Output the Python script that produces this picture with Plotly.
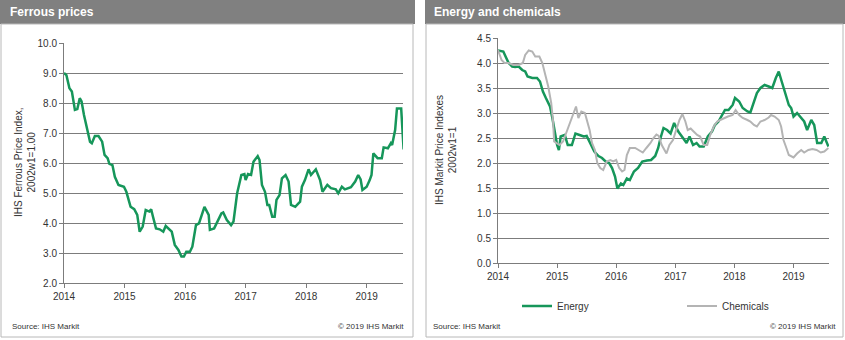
import plotly.graph_objects as go

W, H = 845, 340

# Ferrous price index (decimal year, index value)
ferrous_year = [
    2014.00, 2014.04, 2014.09, 2014.13, 2014.18, 2014.22, 2014.26, 2014.29, 2014.33, 2014.37,
    2014.43, 2014.46, 2014.51, 2014.57, 2014.63, 2014.67, 2014.72, 2014.75, 2014.80, 2014.84,
    2014.90, 2014.99, 2015.03, 2015.10, 2015.16, 2015.21, 2015.25, 2015.30, 2015.35, 2015.41,
    2015.44, 2015.47, 2015.52, 2015.58, 2015.64, 2015.68, 2015.72, 2015.78, 2015.83, 2015.89,
    2015.94, 2015.98, 2016.02, 2016.08, 2016.12, 2016.18, 2016.23, 2016.28, 2016.32, 2016.39,
    2016.41, 2016.48, 2016.53, 2016.60, 2016.63, 2016.69, 2016.76, 2016.80, 2016.86, 2016.93,
    2016.98, 2017.00, 2017.04, 2017.09, 2017.13, 2017.20, 2017.23, 2017.27, 2017.32, 2017.36,
    2017.39, 2017.44, 2017.48, 2017.51, 2017.56, 2017.60, 2017.66, 2017.71, 2017.75, 2017.82,
    2017.90, 2017.93, 2017.98, 2018.04, 2018.08, 2018.16, 2018.23, 2018.27, 2018.35, 2018.41,
    2018.49, 2018.53, 2018.59, 2018.64, 2018.74, 2018.81, 2018.86, 2018.90, 2018.93, 2019.00,
    2019.05, 2019.08, 2019.11, 2019.18, 2019.25, 2019.28, 2019.35, 2019.40, 2019.42, 2019.47,
    2019.50, 2019.57, 2019.61,
]
ferrous_index = [
    9.00, 8.93, 8.49, 8.38, 7.77, 7.80, 8.16, 8.05, 7.60, 7.21,
    6.71, 6.66, 6.90, 6.90, 6.71, 6.27, 6.16, 5.97, 5.93, 5.54,
    5.27, 5.21, 5.04, 4.54, 4.46, 4.27, 3.71, 3.88, 4.43, 4.38,
    4.46, 4.21, 3.82, 3.79, 3.71, 3.90, 3.82, 3.71, 3.27, 3.10,
    2.88, 2.88, 3.04, 3.04, 3.21, 3.93, 3.99, 4.27, 4.54, 4.27,
    3.77, 3.82, 4.05, 4.32, 4.35, 4.10, 3.93, 4.05, 4.99, 5.60,
    5.63, 5.43, 5.63, 5.60, 6.04, 6.23, 6.10, 5.27, 5.04, 4.60,
    4.60, 4.21, 4.21, 4.77, 4.93, 5.49, 5.60, 5.38, 4.60, 4.54,
    4.71, 5.21, 5.43, 5.79, 5.60, 5.79, 5.43, 5.04, 5.27, 5.16,
    5.12, 4.99, 5.21, 5.12, 5.19, 5.38, 5.60, 5.45, 5.10, 5.21,
    5.43, 5.60, 6.32, 6.16, 6.16, 6.52, 6.49, 6.66, 6.60, 7.10,
    7.82, 7.82, 6.45,
]

# Energy price index
energy_year = [
    2014.00, 2014.09, 2014.14, 2014.18, 2014.24, 2014.29, 2014.35, 2014.41, 2014.46, 2014.50,
    2014.58, 2014.66, 2014.71, 2014.76, 2014.81, 2014.88, 2014.92, 2014.95, 2015.00, 2015.03,
    2015.06, 2015.13, 2015.18, 2015.25, 2015.31, 2015.38, 2015.45, 2015.50, 2015.56, 2015.63,
    2015.70, 2015.76, 2015.82, 2015.88, 2015.93, 2015.98, 2016.02, 2016.08, 2016.12, 2016.18,
    2016.23, 2016.30, 2016.37, 2016.44, 2016.52, 2016.59, 2016.66, 2016.71, 2016.75, 2016.80,
    2016.86, 2016.92, 2016.98, 2017.05, 2017.13, 2017.19, 2017.24, 2017.30, 2017.36, 2017.41,
    2017.48, 2017.55, 2017.62, 2017.67, 2017.73, 2017.78, 2017.84, 2017.90, 2017.97, 2018.01,
    2018.08, 2018.14, 2018.22, 2018.27, 2018.33, 2018.38, 2018.44, 2018.51, 2018.58, 2018.64,
    2018.70, 2018.75, 2018.80, 2018.86, 2018.92, 2018.96, 2019.00, 2019.06, 2019.13, 2019.18,
    2019.23, 2019.30, 2019.35, 2019.40, 2019.47, 2019.52, 2019.59,
]
energy_index = [
    4.25, 4.23, 4.10, 4.00, 3.93, 3.92, 3.93, 3.86, 3.83, 3.73,
    3.70, 3.70, 3.63, 3.43, 3.30, 3.13, 2.90, 2.70, 2.36, 2.26,
    2.53, 2.56, 2.36, 2.36, 2.59, 2.56, 2.53, 2.54, 2.40, 2.23,
    2.14, 2.10, 2.03, 2.00, 1.90, 1.73, 1.49, 1.59, 1.56, 1.69,
    1.66, 1.83, 1.90, 2.03, 2.05, 2.06, 2.14, 2.30, 2.50, 2.70,
    2.66, 2.59, 2.80, 2.63, 2.50, 2.40, 2.53, 2.36, 2.40, 2.33,
    2.33, 2.53, 2.63, 2.76, 2.83, 2.93, 3.06, 3.06, 3.16, 3.30,
    3.23, 3.10, 3.03, 3.01, 3.23, 3.40, 3.50, 3.56, 3.53, 3.50,
    3.70, 3.83, 3.63, 3.40, 3.16, 3.10, 2.93, 3.00, 2.90, 2.83,
    2.66, 2.86, 2.76, 2.40, 2.40, 2.53, 2.33,
]

# Chemicals price index
chem_year = [
    2014.00, 2014.06, 2014.11, 2014.18, 2014.26, 2014.35, 2014.42, 2014.46, 2014.52, 2014.58,
    2014.63, 2014.70, 2014.75, 2014.79, 2014.85, 2014.90, 2014.93, 2014.95, 2015.00, 2015.04,
    2015.10, 2015.17, 2015.22, 2015.28, 2015.32, 2015.36, 2015.41, 2015.47, 2015.50, 2015.55,
    2015.59, 2015.64, 2015.68, 2015.73, 2015.78, 2015.84, 2015.90, 2015.95, 2016.00, 2016.05,
    2016.10, 2016.14, 2016.18, 2016.23, 2016.32, 2016.39, 2016.45, 2016.51, 2016.58, 2016.63,
    2016.68, 2016.72, 2016.77, 2016.85, 2016.90, 2016.96, 2017.02, 2017.07, 2017.12, 2017.17,
    2017.21, 2017.26, 2017.31, 2017.37, 2017.42, 2017.48, 2017.54, 2017.59, 2017.65, 2017.71,
    2017.76, 2017.82, 2017.89, 2017.97, 2018.02, 2018.08, 2018.14, 2018.22, 2018.27, 2018.33,
    2018.38, 2018.44, 2018.51, 2018.58, 2018.62, 2018.68, 2018.75, 2018.79, 2018.83, 2018.87,
    2018.92, 2019.00, 2019.06, 2019.13, 2019.18, 2019.25, 2019.32, 2019.39, 2019.46, 2019.52,
    2019.59,
]
chem_index = [
    4.26, 4.06, 4.00, 4.00, 3.96, 3.96, 4.00, 4.16, 4.25, 4.23,
    4.13, 4.13, 4.00, 3.80, 3.53, 3.20, 2.86, 2.43, 2.40, 2.36,
    2.43, 2.66, 2.80, 3.00, 3.13, 2.90, 3.03, 3.00, 2.86, 2.66,
    2.40, 2.26, 2.00, 1.90, 1.86, 2.03, 2.06, 2.03, 2.06, 1.90,
    1.83, 1.86, 2.16, 2.30, 2.30, 2.26, 2.21, 2.30, 2.40, 2.50,
    2.57, 2.54, 2.36, 2.19, 2.36, 2.46, 2.66, 2.86, 2.98, 2.83,
    2.66, 2.69, 2.63, 2.56, 2.53, 2.36, 2.36, 2.56, 2.73, 2.83,
    2.86, 2.90, 2.93, 2.96, 3.06, 2.96, 2.90, 2.86, 2.83, 2.76,
    2.73, 2.83, 2.86, 2.91, 2.96, 2.93, 2.86, 2.73, 2.46, 2.33,
    2.16, 2.11, 2.19, 2.26, 2.21, 2.26, 2.28, 2.26, 2.21, 2.23,
    2.30,
]

year_ticks = [2014, 2015, 2016, 2017, 2018, 2019]
ferrous_ticks = [2, 3, 4, 5, 6, 7, 8, 9, 10]
energy_ticks = [0, 0.5, 1, 1.5, 2, 2.5, 3, 3.5, 4, 4.5]

GREEN = "#16965a"
GREY_LINE = "#b4b4b4"
GRID = "#7c7c7c"
TXT = "#333333"
FONT = "Liberation Sans, Arial, sans-serif"


def px(x):
    return x / W


def py(y):
    return 1 - y / H


fig = go.Figure()
fig.add_trace(go.Scatter(x=ferrous_year, y=ferrous_index, mode="lines",
                         line=dict(color=GREEN, width=2.5), showlegend=False,
                         xaxis="x", yaxis="y"))
fig.add_trace(go.Scatter(x=energy_year, y=energy_index, mode="lines", name="Energy",
                         line=dict(color=GREEN, width=2.5), xaxis="x2", yaxis="y2"))
fig.add_trace(go.Scatter(x=chem_year, y=chem_index, mode="lines", name="Chemicals",
                         line=dict(color=GREY_LINE, width=2), xaxis="x2", yaxis="y2"))

common_x = dict(range=[2014, 2019.6], tickmode="array", tickvals=year_ticks,
                showgrid=False, zeroline=False, showline=True, linecolor=GRID,
                linewidth=1, ticks="outside", ticklen=4, tickcolor=GRID,
                tickfont=dict(family=FONT, size=10, color=TXT), fixedrange=True,
                automargin=False)
common_y = dict(showgrid=True, gridcolor=GRID, gridwidth=1, zeroline=False,
                showline=True, linecolor=GRID, linewidth=1, ticks="outside",
                ticklen=4, tickcolor=GRID, tickformat=".1f",
                tickfont=dict(family=FONT, size=10, color=TXT), fixedrange=True,
                automargin=False)

fig.update_layout(
    width=W, height=H, autosize=False,
    margin=dict(l=0, r=0, t=0, b=0, pad=0, autoexpand=False),
    paper_bgcolor="white", plot_bgcolor="white",
    xaxis=dict(domain=[px(64), px(403)], anchor="y", **common_x),
    yaxis=dict(domain=[py(283), py(43)], anchor="x", range=[2, 10],
               tickvals=ferrous_ticks, **common_y),
    xaxis2=dict(domain=[px(498), px(829)], anchor="y2", **common_x),
    yaxis2=dict(domain=[py(263), py(38)], anchor="x2", range=[0, 4.5],
                tickvals=energy_ticks, **common_y),
    legend=dict(orientation="h", x=px(517), y=py(306), xanchor="left", yanchor="middle",
                entrywidth=120, entrywidthmode="pixels", tracegroupgap=0,
                font=dict(family=FONT, size=10, color=TXT), bgcolor="rgba(0,0,0,0)"),
)

shapes = [
    # panel title bars
    dict(type="rect", xref="paper", yref="paper", x0=px(0), x1=px(415), y0=py(24), y1=py(0),
         fillcolor="#808080", line=dict(width=0), layer="below"),
    dict(type="rect", xref="paper", yref="paper", x0=px(425), x1=px(845), y0=py(24), y1=py(0),
         fillcolor="#808080", line=dict(width=0), layer="below"),
    # panel frames
    dict(type="rect", xref="paper", yref="paper", x0=px(1), x1=px(413), y0=py(337), y1=py(24),
         fillcolor="rgba(0,0,0,0)", line=dict(color="#b8b8b8", width=1), layer="below"),
    dict(type="rect", xref="paper", yref="paper", x0=px(426), x1=px(843), y0=py(337), y1=py(24),
         fillcolor="rgba(0,0,0,0)", line=dict(color="#b8b8b8", width=1), layer="below"),
]
fig.update_layout(shapes=shapes)

annotations = [
    dict(text="<b>Ferrous prices</b>", x=px(8), y=py(12), xanchor="left", yanchor="middle",
         font=dict(family=FONT, size=12, color="white")),
    dict(text="<b>Energy and chemicals</b>", x=px(432), y=py(12), xanchor="left",
         yanchor="middle", font=dict(family=FONT, size=12, color="white")),
    dict(text="IHS Ferrous Price Index,<br>2002w1=1.00", x=px(25), y=py(163), textangle=-90,
         xanchor="center", yanchor="middle", font=dict(family=FONT, size=10, color=TXT)),
    dict(text="IHS Markit Price Indexes<br>2002w1=1", x=px(446), y=py(150), textangle=-90,
         xanchor="center", yanchor="middle", font=dict(family=FONT, size=10, color=TXT)),
    dict(text="Source: IHS Markit", x=px(10), y=py(326), xanchor="left", yanchor="middle",
         font=dict(family=FONT, size=8, color=TXT)),
    dict(text="© 2019 IHS Markit", x=px(406), y=py(326), xanchor="right", yanchor="middle",
         font=dict(family=FONT, size=8, color=TXT)),
    dict(text="Source: IHS Markit", x=px(431), y=py(326), xanchor="left", yanchor="middle",
         font=dict(family=FONT, size=8, color=TXT)),
    dict(text="© 2019 IHS Markit", x=px(838), y=py(326), xanchor="right", yanchor="middle",
         font=dict(family=FONT, size=8, color=TXT)),
]
for a in annotations:
    a.update(xref="paper", yref="paper", showarrow=False)
fig.update_layout(annotations=annotations)

# page without the default body margin so the figure sits flush at the top-left
page_js = "document.body.style.margin='0';document.body.style.overflow='hidden';"
fig.write_html("out.html", post_script=page_js)
